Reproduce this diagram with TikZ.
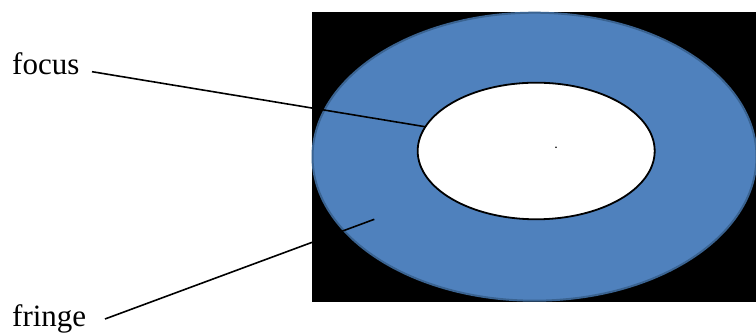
\documentclass[tikz,border=0pt]{standalone}
\usepackage{fontspec}
\setmainfont{Liberation Serif}
\usetikzlibrary{shapes.geometric}
\definecolor{ringblue}{HTML}{4F81BD}
\definecolor{ringedge}{HTML}{3A6391}
\tikzset{
  lbl/.style={anchor=base west, inner sep=0pt, font=\fontsize{31}{31}\selectfont},
  leader/.style={draw=black, line width=1.6pt},
  oval/.style={ellipse, inner sep=0pt},
}
\begin{document}
\begin{tikzpicture}[x=1pt,y=1pt]
\useasboundingbox (0,0) rectangle (756,336);
\fill[black] (312,34) rectangle (756,324);
\begin{scope}
\clip (0,0) rectangle (756,336);
\node[oval, draw=ringedge, line width=2pt, fill=ringblue, minimum width=444pt, minimum height=288pt] (fringeellipse) at (534.5,179.3) {};
\end{scope}
\node[oval, draw=black, line width=1.8pt, fill=white, minimum width=237pt, minimum height=136.6pt] (focusellipse) at (536.2,185) {};
\node[circle, fill=black, inner sep=0pt, minimum size=1.8pt] (centerdot) at (556,188.7) {};
\node[lbl] (focus) at (12,261) {focus};
\node[lbl] (fringe) at (12,9.5) {fringe};
\coordinate (focusstart) at (92,264.3);
\coordinate (focusend) at (425,209.3);
\coordinate (fringestart) at (105,17);
\coordinate (fringeend) at (374.3,116.7);
\draw[leader] (focusstart) -- (focusend);
\draw[leader] (fringestart) -- (fringeend);
\end{tikzpicture}
\end{document}
